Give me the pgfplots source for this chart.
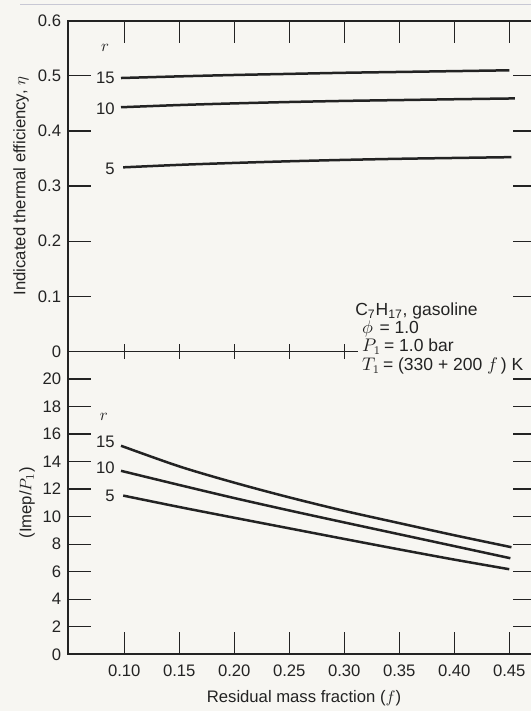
\documentclass[border=0pt]{standalone}
\usepackage{pgfplots}
\pgfplotsset{compat=1.18}
\usepackage{fontspec}
\setmainfont{Liberation Sans}
\definecolor{bg}{RGB}{247,246,242}
\definecolor{ink}{RGB}{35,35,35}
\definecolor{edge}{RGB}{200,200,212}
\pgfplotsset{
  common/.style={
    scale only axis, width=280.6pt,
    xmin=0.04909, xmax=0.47427,
    axis line style={ink, line width=1.1pt},
    tick style={ink, line width=0.8pt},
    tick align=inside,
    major tick length=13.5pt,
    /pgf/number format/assume math mode=true,
    ticklabel style={font=\fontsize{10}{12}\selectfont, text=ink},
    yticklabel style={xshift=-0.8pt},
    label style={font=\fontsize{10}{12}\selectfont, text=ink},
    clip=false,
  },
  crv/.style={ink, line width=1.5pt, no marks, smooth},
}
\begin{document}
\begin{tikzpicture}
\path[use as bounding box] (0,0) rectangle (318.6pt,426.6pt);
\clip (0,0) rectangle (318.6pt,426.6pt);
\fill[bg] (0,0) rectangle (318.6pt,426.6pt);
\draw[edge, line width=0.6pt] (12pt,423.6pt) -- (318.6pt,423.6pt);

% top panel
\begin{axis}[common, at={(40.98pt,215.7pt)}, anchor=south west, height=198.5pt,
  ymin=0, ymax=0.6,
  ytick={0,0.1,0.2,0.3,0.4,0.5,0.6}, yticklabels={0,0.1,0.2,0.3,0.4,0.5,0.6},
  ytick pos=both, yticklabel pos=left,
  xtick={0.10,0.15,0.20,0.25,0.30,0.35,0.40,0.45}, xticklabels={},
  xtick pos=right,
  ylabel={Indicated thermal efficiency, $\eta$},
  ylabel style={at={(axis description cs:-0.1011,0.5)}, anchor=center},
]
\addplot[crv] coordinates {(0.097,0.496) (0.15,0.499) (0.20,0.5015) (0.25,0.5035) (0.30,0.5055) (0.35,0.507) (0.40,0.5085) (0.45,0.510)};
\addplot[crv] coordinates {(0.097,0.443) (0.15,0.447) (0.20,0.450) (0.25,0.4525) (0.30,0.4545) (0.35,0.456) (0.40,0.4575) (0.455,0.459)};
\addplot[crv] coordinates {(0.099,0.334) (0.15,0.3385) (0.20,0.342) (0.25,0.345) (0.30,0.3475) (0.35,0.3495) (0.40,0.351) (0.452,0.3525)};
\node[text=ink, inner sep=0] at (axis cs:0.0825,0.551) {$r$};
\node[text=ink, inner sep=0, anchor=east] at (axis cs:0.0915,0.496) {15};
\node[text=ink, inner sep=0, anchor=east] at (axis cs:0.0915,0.440) {10};
\node[text=ink, inner sep=0, anchor=east] at (axis cs:0.0915,0.331) {5};
\end{axis}

% middle crossing ticks
\begin{axis}[common, at={(40.98pt,215.7pt)}, anchor=south west, height=198.5pt,
  ymin=0, ymax=0.6, ytick=\empty,
  xtick={0.10,0.15,0.20,0.25,0.30,0.35,0.40,0.45}, xticklabels={},
  xtick pos=left, tick align=center, major tick length=9pt,
  axis line style={draw=none},
]
\end{axis}

% bottom panel
\begin{axis}[common, at={(40.98pt,34.02pt)}, anchor=south west, height=181.7pt,
  ymin=0, ymax=22,
  ytick={0,2,4,6,8,10,12,14,16,18,20},
  ytick pos=both, yticklabel pos=left,
  xtick={0.10,0.15,0.20,0.25,0.30,0.35,0.40,0.45},
  xticklabels={0.10,0.15,0.20,0.25,0.30,0.35,0.40,0.45},
  xtick pos=left,
  xticklabel style={anchor=base, yshift=-13.4pt},
  xlabel={Residual mass fraction ($f$)},
  xlabel style={at={(axis description cs:0.504,-0.1608)}, anchor=base},
  ylabel={(Imep/$P_1$)},
  ylabel style={at={(axis description cs:-0.0883,0.5)}, anchor=center},
]
\addplot[crv] coordinates {(0.097,15.15) (0.15,13.65) (0.20,12.47) (0.25,11.4) (0.30,10.42) (0.35,9.53) (0.40,8.65) (0.452,7.78)};
\addplot[crv] coordinates {(0.097,13.33) (0.15,12.3) (0.20,11.35) (0.25,10.45) (0.30,9.58) (0.35,8.72) (0.40,7.86) (0.451,6.98)};
\addplot[crv] coordinates {(0.099,11.53) (0.15,10.7) (0.20,9.92) (0.25,9.15) (0.30,8.38) (0.35,7.62) (0.40,6.88) (0.45,6.18)};
\node[text=ink, inner sep=0] at (axis cs:0.0815,17.28) {$r$};
\node[text=ink, inner sep=0, anchor=east] at (axis cs:0.0915,15.46) {15};
\node[text=ink, inner sep=0, anchor=east] at (axis cs:0.0915,13.57) {10};
\node[text=ink, inner sep=0, anchor=east] at (axis cs:0.0915,11.53) {5};
\end{axis}

% annotation
\fill[bg] (214.8pt,210pt) rectangle (330pt,221.4pt);
\begin{scope}[every node/.style={text=ink, inner sep=0, anchor=base west, font=\fontsize{10.5}{12}\selectfont}]
\node at (213pt,237.4pt) {C\textsubscript{7}H\textsubscript{17}, gasoline};
\node at (217pt,226.4pt) {$\phi$\hspace{4pt}= 1.0};
\node at (217pt,215.4pt) {$P_1$\,= 1.0 bar};
\node at (217pt,204.4pt) {$T_1$\,= (330 + 200 $f$\,) K};
\end{scope}
\end{tikzpicture}
\end{document}
